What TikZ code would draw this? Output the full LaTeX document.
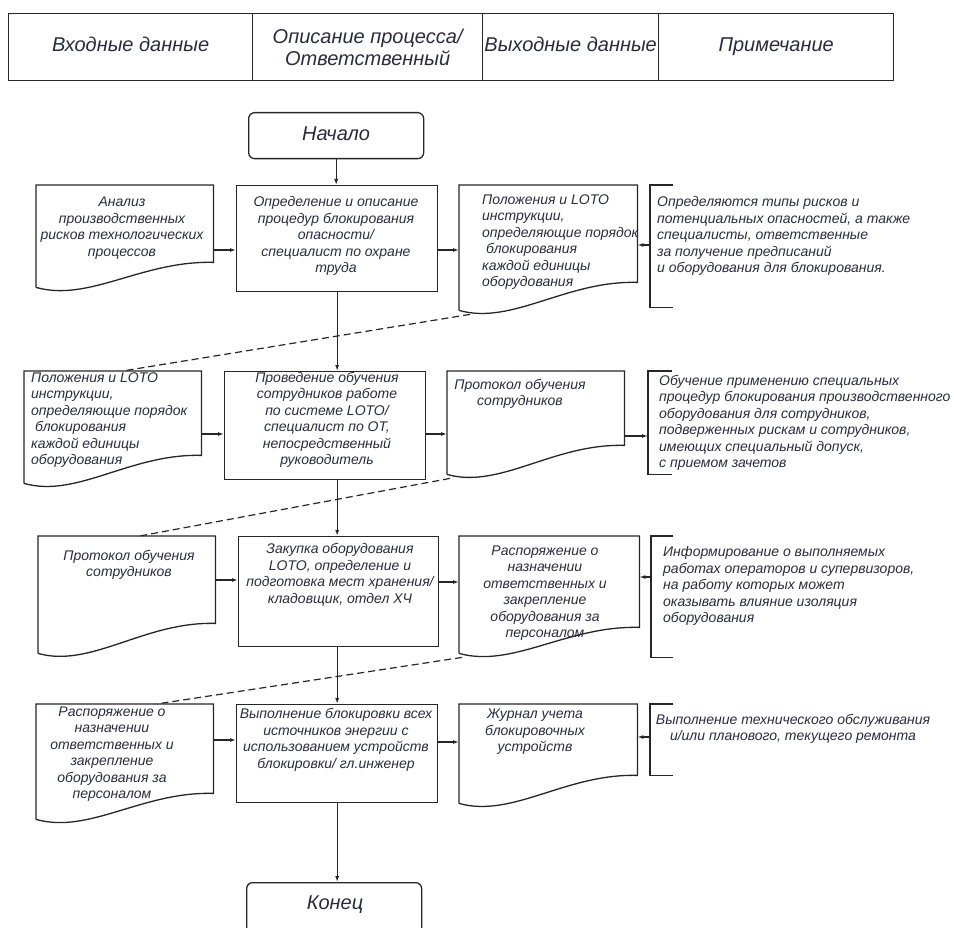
\documentclass[tikz,border=0pt]{standalone}
\usepackage{fontspec}
\setmainfont{Liberation Sans}
\usetikzlibrary{arrows.meta,calc}
\definecolor{lc}{RGB}{38,38,38}
\definecolor{tc}{RGB}{40,44,62}
\newcommand\docoutline[3]{\draw[ln] (#1.south west) -- (#1.north west) -- (#1.north east) -- ([yshift=#3]#1.south east) .. controls ([xshift={0.6*#2}, yshift={#3+2}]#1.south west) and ([xshift={0.3*#2}, yshift=-15]#1.south west) .. (#1.south west);}
\newcommand\bracketoutline[1]{\draw[ln] (#1.north east) -- (#1.north west) -- (#1.south west) -- (#1.south east);}
\tikzset{
  ln/.style={line width=1.3pt, draw=lc},
  procbox/.style={ln, rectangle, inner sep=0, anchor=north west},
  termbox/.style={ln, rectangle, rounded corners=6pt, inner sep=0, anchor=north west, text=tc, font=\itshape\fontsize{20}{22}\selectfont},
  hdr/.style={ln, rectangle, inner sep=0, anchor=north west, minimum height=67, align=center, text=tc, font=\itshape\fontsize{20}{22}\selectfont},
  area/.style={rectangle, inner sep=0, anchor=north west, draw=none},
  txt/.style={inner sep=0, text=tc, font=\itshape\fontsize{14}{16.5}\selectfont},
  arr/.style={line width=1.3pt, draw=lc, -{Latex[length=6pt,width=4pt]}},
  dsh/.style={line width=1.2pt, draw=lc, dash pattern=on 7pt off 4pt},
}
\begin{document}
\begin{tikzpicture}[x=1pt,y=-1pt]
\useasboundingbox (0,0) rectangle (954,928);
\clip (0,0) rectangle (954,928);
% header
\node[hdr, minimum width=244] (h1) at (8,13) {\strut Входные данные};
\node[hdr, minimum width=230] (h2) at (252,13) {Описание процесса/\\Ответственный};
\node[hdr, minimum width=176] (h3) at (482,13) {\strut Выходные данные};
\node[hdr, minimum width=235] (h4) at (658,13) {\strut Примечание};
% start / end
\node[termbox, minimum width=175, minimum height=46] (st) at (248,112) {\strut Начало};
\node[termbox, minimum width=175, minimum height=52] (en) at (246,882) {};
\node[txt, font=\itshape\fontsize{20}{22}\selectfont] (ent) at (335,905) {\strut Конец};
% level coordinates
\coordinate (r1a) at (0,250); \coordinate (r1b) at (0,245);
\coordinate (r2a) at (0,434); \coordinate (r2b) at (0,436);
\coordinate (r3a) at (0,580); \coordinate (r3c) at (0,582); \coordinate (r3b) at (0,577);
\coordinate (r4a) at (0,740); \coordinate (r4c) at (0,742); \coordinate (r4b) at (0,737);
% ---------- row 1
\node[area, minimum width=177, minimum height=102] (in1) at (36,185) {};
\docoutline{in1}{177}{25}
\node[txt, align=center] (in1t) at (122,228) {Анализ\\производственных\\рисков технологических\\процессов};
\node[procbox, minimum width=201, minimum height=106] (p1) at (236,185) {};
\node[txt, align=center] (p1t) at (336,236) {Определение и описание\\процедур блокирования\\опасности/\\специалист по охране\\труда};
\node[area, minimum width=178, minimum height=125] (out1) at (459,185) {};
\docoutline{out1}{178}{28}
\node[txt, align=left, anchor=west] (out1t) at (482,242) {Положения и LOTO\\инструкции,\\определяющие порядок\\\hspace{4pt}блокирования\\каждой единицы\\оборудования};
\node[area, minimum width=23, minimum height=122] (n1) at (650,185) {};
\bracketoutline{n1}
\node[txt, align=left, anchor=west] (n1t) at (657,236) {Определяются типы рисков и\\потенциальных опасностей, а также\\специалисты, ответственные\\за получение предписаний\\и оборудования для блокирования.};
% ---------- row 2
\node[area, minimum width=177, minimum height=112] (in2) at (24,371) {};
\docoutline{in2}{177}{28}
\node[txt, align=left, anchor=west] (in2t) at (31,420) {Положения и LOTO\\инструкции,\\определяющие порядок\\\hspace{4pt}блокирования\\каждой единицы\\оборудования};
\node[procbox, minimum width=201, minimum height=108] (p2) at (224,371) {};
\node[txt, align=center] (p2t) at (327,420) {Проведение обучения\\сотрудников работе\\по системе LOTO/\\специалист по ОТ,\\непосредственный\\руководитель};
\node[area, minimum width=177, minimum height=103] (out2) at (447,371) {};
\docoutline{out2}{177}{29}
\node[txt, align=center] (out2t) at (520,394) {Протокол обучения\\сотрудников};
\node[area, minimum width=24, minimum height=103] (n2) at (648,371) {};
\bracketoutline{n2}
\node[txt, align=left, anchor=west] (n2t) at (659,423) {Обучение применению специальных\\процедур блокирования производственного\\оборудования для сотрудников,\\подверженных рискам и сотрудников,\\имеющих специальный допуск,\\с приемом зачетов};
% ---------- row 3
\node[area, minimum width=177, minimum height=117] (in3) at (38,536) {};
\docoutline{in3}{177}{30}
\node[txt, align=center] (in3t) at (129,565) {Протокол обучения\\сотрудников};
\node[procbox, minimum width=200, minimum height=110] (p3) at (238,536) {};
\node[txt, align=center] (p3t) at (340,575) {Закупка оборудования\\LOTO, определение и\\подготовка мест хранения/\\кладовщик, отдел ХЧ};
\node[area, minimum width=180, minimum height=117] (out3) at (459,536) {};
\docoutline{out3}{180}{26}
\node[txt, align=center] (out3t) at (545,593) {Распоряжение о\\назначении\\ответственных и\\закрепление\\оборудования за\\персоналом};
\node[area, minimum width=22, minimum height=121] (n3) at (651,536) {};
\bracketoutline{n3}
\node[txt, align=left, anchor=west] (n3t) at (663,586) {Информирование о выполняемых\\работах операторов и супервизоров,\\на работу которых может\\оказывать влияние изоляция\\оборудования};
% ---------- row 4
\node[area, minimum width=177, minimum height=115] (in4) at (36,704) {};
\docoutline{in4}{177}{26}
\node[txt, align=center] (in4t) at (112,754) {Распоряжение о\\назначении\\ответственных и\\закрепление\\оборудования за\\персоналом};
\node[procbox, minimum width=201, minimum height=98] (p4) at (236,704) {};
\node[txt, align=center] (p4t) at (336,740) {Выполнение блокировки всех\\источников энергии с\\использованием устройств\\блокировки/ гл.инженер};
\node[area, minimum width=178, minimum height=99] (out4) at (459,704) {};
\docoutline{out4}{178}{28}
\node[txt, align=center] (out4t) at (535,732) {Журнал учета\\блокировочных\\устройств};
\node[area, minimum width=23, minimum height=71] (n4) at (650,704) {};
\bracketoutline{n4}
\node[txt, align=center] (n4t) at (793,729) {Выполнение технического обслуживания\\и/или планового, текущего ремонта};
% ---------- horizontal connectors
\draw[arr] (in1.east |- r1a) -- (p1.west |- r1a);
\draw[arr] (p1.east |- r1a) -- (out1.west |- r1a);
\draw[arr] (n1.west |- r1b) -- (out1.east |- r1b);
\draw[arr] (in2.east |- r2a) -- (p2.west |- r2a);
\draw[arr] (p2.east |- r2a) -- (out2.west |- r2a);
\draw[arr] (out2.east |- r2b) -- (n2.west |- r2b);
\draw[arr] (in3.east |- r3a) -- (p3.west |- r3a);
\draw[arr] (p3.east |- r3c) -- (out3.west |- r3c);
\draw[arr] (n3.west |- r3b) -- (out3.east |- r3b);
\draw[arr] (in4.east |- r4a) -- (p4.west |- r4a);
\draw[arr] (p4.east |- r4c) -- (out4.west |- r4c);
\draw[arr] (n4.west |- r4b) -- (out4.east |- r4b);
% ---------- vertical spine
\draw[arr] (st.south) -- (st.south |- p1.north);
\draw[arr] (p1.south) -- (p1.south |- p2.north);
\draw[arr] (p1.south |- p2.south) -- (p1.south |- p3.north);
\draw[arr] (p1.south |- p3.south) -- (p1.south |- p4.north);
\draw[arr] (p1.south |- p4.south) -- (p1.south |- en.north);
% ---------- dashed links
\draw[dsh] ([xshift=11pt,yshift=-4pt]out1.south west) -- ([xshift=10pt]in2.north);
\draw[dsh] ([xshift=3pt,yshift=-4pt]out2.south west) -- ([xshift=13pt]in3.north);
\draw[dsh] ([xshift=3pt,yshift=-4pt]out3.south west) -- ([xshift=32pt]in4.north);
\end{tikzpicture}
\end{document}
